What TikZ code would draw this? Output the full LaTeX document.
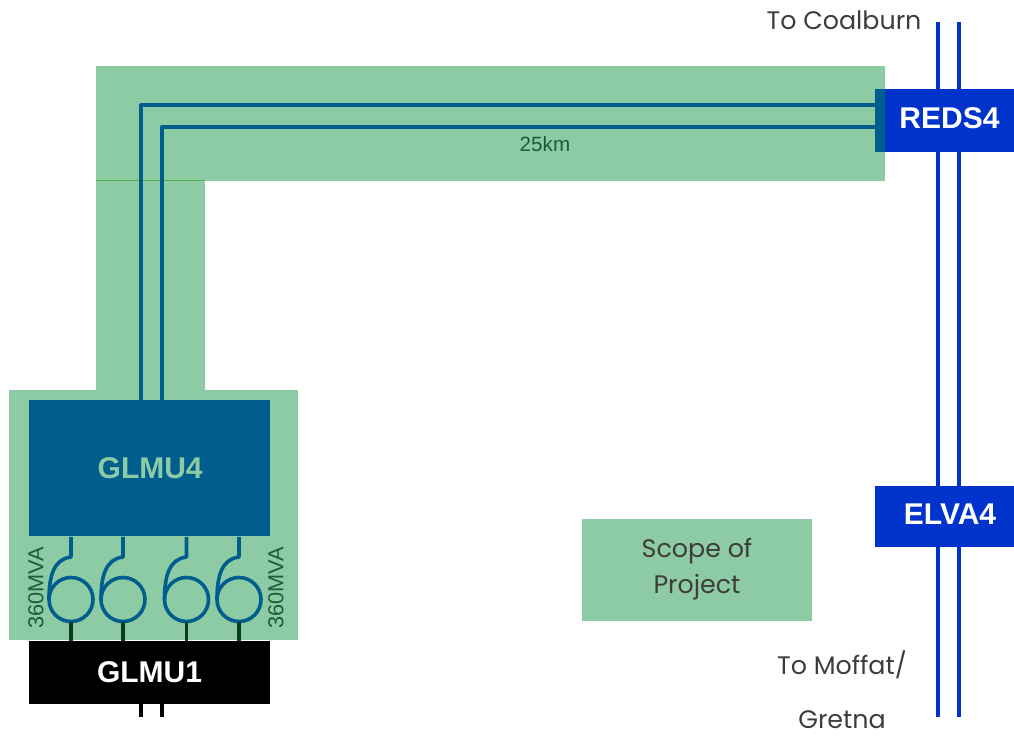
\documentclass[tikz,border=0pt]{standalone}
\usepackage{fontspec}
\setmainfont{Poppins}
\newfontfamily\arialf{Liberation Sans}
\definecolor{scopegreen}{HTML}{8DCBA5}
\definecolor{darkblue}{HTML}{005E8E}
\definecolor{busblue}{HTML}{0033CC}
\definecolor{labelgreen}{HTML}{1F5A3A}
\definecolor{stubgreen}{HTML}{0B3D22}
\definecolor{captext}{HTML}{3F3D3A}
\tikzset{
  x=0.75pt,y=-0.75pt,
  zone/.style={fill=scopegreen,draw=none},
  boxfont/.style={font=\arialf\bfseries\fontsize{22.5}{25}\selectfont},
  stationbox/.style={inner sep=0,outer sep=0},
  caption/.style={font=\fontsize{19}{22}\selectfont,text=captext,inner sep=0,anchor=base},
  feeder/.style={draw=darkblue,line width=3pt,line join=round},
  busline/.style={draw=busblue,line width=3.2pt},
  coil/.style={draw=darkblue,line width=2.7pt,line join=round},
  stub/.style={draw=stubgreen,line width=2.6pt},
  rating/.style={font=\arialf\fontsize{16.3}{18}\selectfont,text=labelgreen,rotate=90,inner sep=0},
}
\newcommand{\coilat}[2]{%
  \coordinate (ct#2) at (#1,537);
  \coordinate (cb#2) at (#1,622);
  \coordinate (cs#2) at (#1,641);
  \draw[coil] (#1,599.5) circle[radius=22];
  \draw[coil] (ct#2) -- ++(0,20) .. controls +(-17,2) and +(0,-24) .. +(-22,42.5);
  \draw[stub] (cb#2) -- (cs#2);
}
\begin{document}
\begin{tikzpicture}
\useasboundingbox (0,0) rectangle (1014,737);
% green zones
\fill[zone] (96,66) rectangle (885,181);
\fill[zone] (96,181) rectangle (205,390);
\fill[zone] (9,390) rectangle (298,640);
\draw[draw=green!55!black!70,line width=0.6pt] (96,180.5) -- (205,180.5);
% bus lines
\coordinate (busAtop) at (938,22);
\coordinate (busBtop) at (959,22);
\coordinate (busAbot) at (938,717);
\coordinate (busBbot) at (959,717);
\draw[busline] (busAtop) -- (busAbot);
\draw[busline] (busBtop) -- (busBbot);
% stations
\node[stationbox,fill=busblue,minimum width=139*0.75pt,minimum height=63*0.75pt] (reds) at (944.5,120.5) {};
\node[boxfont,text=white,inner sep=0] (redslabel) at (949.5,118.5) {REDS4};
\node[fill=darkblue,inner sep=0,minimum width=10*0.75pt,minimum height=63*0.75pt] (redsbar) at (880,120.5) {};
\node[stationbox,fill=busblue,minimum width=139*0.75pt,minimum height=61*0.75pt] (elva) at (944.5,516.5) {};
\node[boxfont,text=white,inner sep=0] (elvalabel) at (950,514.5) {ELVA4};
\node[stationbox,fill=darkblue,minimum width=241*0.75pt,minimum height=136*0.75pt,boxfont,text=scopegreen] (glmuf) at (149.5,468) {\hspace{1pt}GLMU4};
\node[stationbox,fill=black,minimum width=241*0.75pt,minimum height=63*0.75pt,boxfont,text=white] (glmuo) at (149.5,672.5) {GLMU1};
% feeders
\coordinate (fa) at (141,400);
\coordinate (fb) at (162,400);
\coordinate (fae) at (875,105);
\coordinate (fbe) at (875,127);
\draw[feeder] (fa) -- (141,105) -- (fae);
\draw[feeder] (fb) -- (162,127) -- (fbe);
% lower lines
\coordinate (la) at (141,704);
\coordinate (lb) at (162,704);
\draw[black,line width=3pt] (la) -- (141,717);
\draw[black,line width=3pt] (lb) -- (162,717);
% coils
\coilat{71}{1}
\coilat{123}{2}
\coilat{186.5}{3}
\coilat{239}{4}
% labels
\node[font=\arialf\fontsize{15.5}{17}\selectfont,text=labelgreen,inner sep=0] (km) at (545,144) {25km};
\node[rating] (ra) at (36,588) {360MVA};
\node[rating] (rb) at (276,588) {360MVA};
% scope
\node[fill=scopegreen,minimum width=230*0.75pt,minimum height=102*0.75pt,inner sep=0] (scope) at (697,570) {};
\node[caption] (scopea) at (697,558) {Scope of};
\node[caption] (scopeb) at (697,594) {Project};
\node[caption] (coal) at (844,30) {To Coalburn};
\node[caption] (moff) at (842,674) {To Moffat/};
\node[caption] (gret) at (842,728) {Gretna};
\end{tikzpicture}
\end{document}
